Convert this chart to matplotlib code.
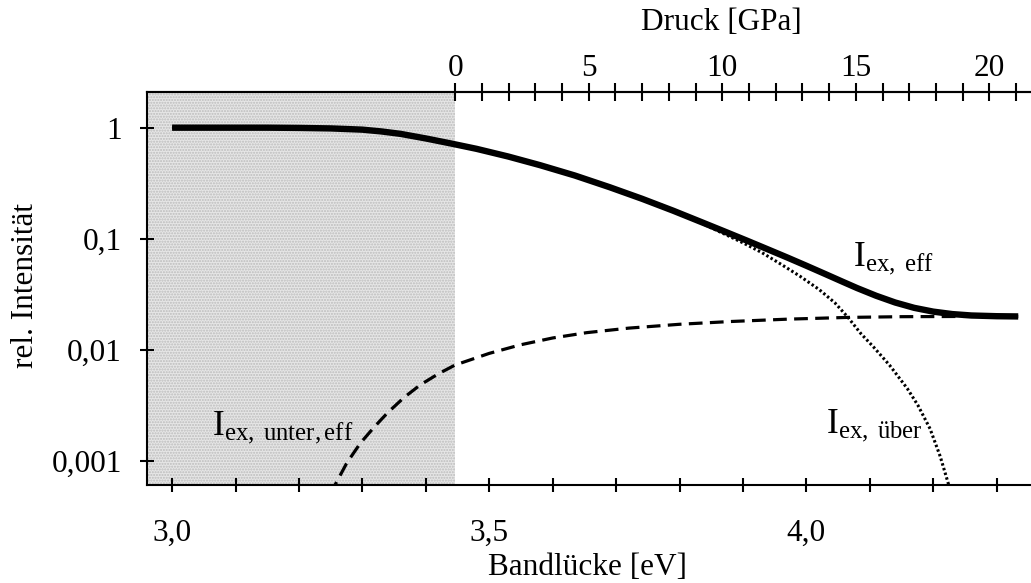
import numpy as np
import matplotlib
matplotlib.use("Agg")
import matplotlib.pyplot as plt
from matplotlib.ticker import FixedLocator, NullFormatter

plt.rcParams['font.family'] = ['Liberation Serif', 'DejaVu Serif']
plt.rcParams['mathtext.fontset'] = 'custom'
plt.rcParams['mathtext.rm'] = 'Liberation Serif'
plt.rcParams['mathtext.it'] = 'Liberation Serif:italic'
plt.rcParams['hatch.linewidth'] = 1.0

# Bandgap (eV) and relative intensity of the three curves
e_eff = [3.00, 3.05, 3.10, 3.15, 3.20, 3.25, 3.30, 3.33, 3.36, 3.40, 3.44,
         3.48, 3.53, 3.58, 3.635, 3.69, 3.741, 3.79, 3.835, 3.87, 3.906,
         3.94, 3.97, 4.00, 4.03, 4.057, 4.08, 4.11, 4.14, 4.17, 4.20, 4.23,
         4.26, 4.30, 4.334]
i_eff = [1.0, 1.0, 1.0, 1.0, 0.995, 0.985, 0.96, 0.925, 0.88, 0.80, 0.72,
         0.645, 0.55, 0.46, 0.371, 0.291, 0.229, 0.179, 0.141, 0.117, 0.0964,
         0.080, 0.0678, 0.0572, 0.0481, 0.0411, 0.0360, 0.0307, 0.0267,
         0.0239, 0.0221, 0.0210, 0.0204, 0.0201, 0.0200]

e_ueber = [3.00, 3.05, 3.10, 3.15, 3.20, 3.25, 3.30, 3.33, 3.36, 3.40, 3.44,
           3.48, 3.53, 3.58, 3.635, 3.69, 3.741, 3.77, 3.80, 3.83, 3.86, 3.90,
           3.93, 3.96, 3.99, 4.02, 4.045, 4.065, 4.086, 4.106, 4.131, 4.159,
           4.176, 4.195, 4.211, 4.224, 4.230]
i_ueber = [1.0, 1.0, 1.0, 1.0, 0.995, 0.985, 0.96, 0.925, 0.88, 0.80, 0.72,
           0.645, 0.55, 0.46, 0.371, 0.291, 0.229, 0.203, 0.168, 0.142, 0.118,
           0.092, 0.075, 0.059, 0.046, 0.035, 0.0265, 0.0198, 0.0140, 0.0106,
           0.0073, 0.0045, 0.00316, 0.00195, 0.00110, 0.00062, 0.00050]

e_unter = [3.250, 3.257, 3.275, 3.2965, 3.318, 3.339, 3.365, 3.391, 3.42,
           3.446, 3.50, 3.549, 3.60, 3.654, 3.72, 3.80, 3.88, 3.97, 4.065,
           4.15, 4.25, 4.334]
i_unter = [0.00050, 0.00061, 0.00095, 0.00144, 0.0020, 0.00269, 0.0037,
           0.00483, 0.0061, 0.0073, 0.0093, 0.0111, 0.0128, 0.0143, 0.0157,
           0.0170, 0.0180, 0.0189, 0.0196, 0.0199, 0.0200, 0.0200]

e_ticks = [3.0, 3.5, 4.0]
e_ticklabels = ['3,0', '3,5', '4,0']
i_ticks = [1, 0.1, 0.01, 0.001]
i_ticklabels = ['1', '0,1', '0,01', '0,001']
p_ticks = [0, 5, 10, 15, 20]

# bandgap at zero pressure and pressure coefficient
E0 = 3.4464
DEDP = 0.04211


def e_to_p(e):
    return (np.asarray(e) - E0) / DEDP


def p_to_e(p):
    return E0 + DEDP * np.asarray(p)


fig = plt.figure(figsize=(10.31, 5.83), dpi=100)
ax = fig.add_axes([0.1423, 0.1681, 0.857, 0.6741])

ax.set_xlim(2.960, 4.353)
ax.set_yscale('log')
ax.set_ylim(6.08e-4, 2.095)

# region below zero pressure
ax.axvspan(2.9, E0, facecolor='#e6e6e6', edgecolor='#bcbcbc', hatch='......',
           linewidth=0, zorder=0)

ax.plot(e_ueber, i_ueber, color='black', lw=2.2, dashes=(0.8, 0.8), zorder=2)
ax.plot(e_unter, i_unter, color='black', lw=2.3, dashes=(4.3, 2.3), zorder=2)
ax.plot(e_eff, i_eff, color='black', lw=4.6, solid_capstyle='butt',
        solid_joinstyle='round', zorder=3)

ax.text(4.073, 0.0581, r'$\mathrm{I}_{\mathrm{ex,\ eff}}$', fontsize=25.5,
        ha='left', va='baseline')
ax.text(4.184, 0.00182, r'$\mathrm{I}_{\mathrm{ex,\ über}}$', fontsize=25.5,
        ha='right', va='baseline')
ax.text(3.063, 0.00175, r'$\mathrm{I}_{\mathrm{ex,\ unter,eff}}$', fontsize=25.5,
        ha='left', va='baseline')

ax.xaxis.set_major_locator(FixedLocator(e_ticks))
ax.xaxis.set_minor_locator(FixedLocator(np.round(np.arange(3.0, 4.35, 0.1), 2)))
ax.set_xticklabels(e_ticklabels)
ax.xaxis.set_minor_formatter(NullFormatter())
ax.yaxis.set_major_locator(FixedLocator(i_ticks))
ax.yaxis.set_minor_locator(FixedLocator([]))
ax.set_yticklabels(i_ticklabels)

ax.tick_params(axis='x', which='both', direction='inout', length=10, width=1.5,
               labelsize=22.5, pad=19)
ax.tick_params(axis='y', which='both', direction='inout', length=10, width=1.5,
               labelsize=22.5, pad=13)
for side in ['left', 'bottom', 'top']:
    ax.spines[side].set_linewidth(1.5)
ax.spines['right'].set_visible(False)

# pressure scale on top
sec = ax.secondary_xaxis('top', functions=(e_to_p, p_to_e))
sec.xaxis.set_major_locator(FixedLocator(p_ticks))
sec.xaxis.set_minor_locator(FixedLocator(list(range(0, 22))))
sec.xaxis.set_minor_formatter(NullFormatter())
sec.tick_params(which='both', direction='inout', length=13, width=1.5,
                labelsize=22.5, pad=0)
sec.spines['top'].set_linewidth(1.5)

fig.text(0.5694, 0.026, 'Bandlücke [eV]', fontsize=22.5, ha='center', va='center')
fig.text(0.0252, 0.511, 'rel. Intensität', fontsize=22.5, ha='center',
         va='center', rotation=90)
fig.text(0.70, 0.962, 'Druck [GPa]', fontsize=22.5, ha='center', va='center')

fig.savefig('out.png', dpi=100)
